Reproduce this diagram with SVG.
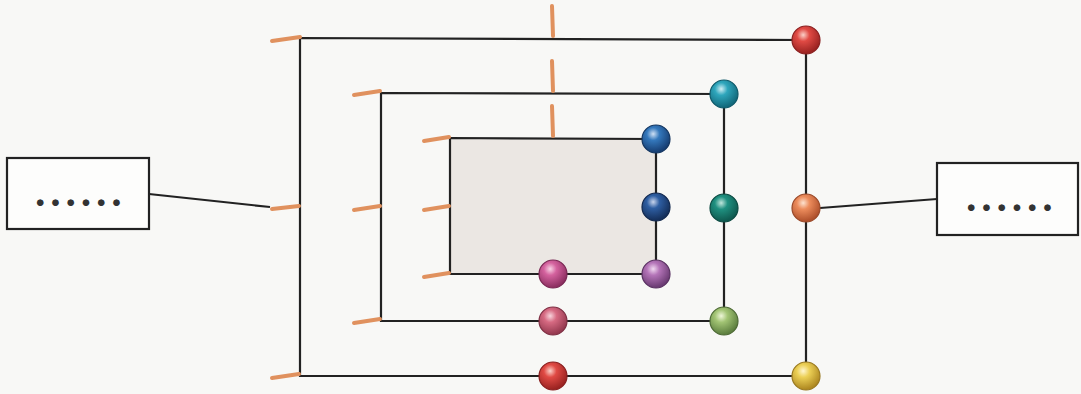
<svg xmlns="http://www.w3.org/2000/svg" width="1081" height="394" viewBox="0 0 1081 394">
<style>
.ln{stroke:#222;stroke-width:2.2;fill:none}
.tk{stroke:#e0915e;stroke-width:4;stroke-linecap:round;fill:none}
.box{fill:#fdfdfc;stroke:#222;stroke-width:2.2}
.dots{font-family:Lato,"Liberation Sans",Arial,sans-serif;font-size:44px;font-weight:bold;fill:#333;letter-spacing:4.8px}
.ball{stroke-width:1.2}
</style>
<defs>
<radialGradient id="gRed" cx="40%" cy="32%" r="65%"><stop offset="0" stop-color="#fbd0c8"/><stop offset="0.35" stop-color="#e04a44"/><stop offset="1" stop-color="#9c2422"/></radialGradient>
<radialGradient id="gOrange" cx="40%" cy="32%" r="65%"><stop offset="0" stop-color="#fde2cf"/><stop offset="0.35" stop-color="#ec8c5c"/><stop offset="1" stop-color="#b0512c"/></radialGradient>
<radialGradient id="gYellow" cx="40%" cy="32%" r="65%"><stop offset="0" stop-color="#fff6cf"/><stop offset="0.35" stop-color="#ecd056"/><stop offset="1" stop-color="#b08a22"/></radialGradient>
<radialGradient id="gCyan" cx="40%" cy="32%" r="65%"><stop offset="0" stop-color="#cfeef4"/><stop offset="0.35" stop-color="#2ea6bc"/><stop offset="1" stop-color="#136a7c"/></radialGradient>
<radialGradient id="gTeal" cx="40%" cy="32%" r="65%"><stop offset="0" stop-color="#bfe6dc"/><stop offset="0.35" stop-color="#1f9080"/><stop offset="1" stop-color="#0f5a50"/></radialGradient>
<radialGradient id="gLime" cx="40%" cy="32%" r="65%"><stop offset="0" stop-color="#eef6d8"/><stop offset="0.35" stop-color="#a2c474"/><stop offset="1" stop-color="#5e8040"/></radialGradient>
<radialGradient id="gPink" cx="40%" cy="32%" r="65%"><stop offset="0" stop-color="#f8d4dc"/><stop offset="0.35" stop-color="#d66a82"/><stop offset="1" stop-color="#963a50"/></radialGradient>
<radialGradient id="gBlue" cx="40%" cy="32%" r="65%"><stop offset="0" stop-color="#cfe0f4"/><stop offset="0.35" stop-color="#3478bc"/><stop offset="1" stop-color="#173f74"/></radialGradient>
<radialGradient id="gNavy" cx="40%" cy="32%" r="65%"><stop offset="0" stop-color="#c8d4ec"/><stop offset="0.35" stop-color="#2e5ea2"/><stop offset="1" stop-color="#15305c"/></radialGradient>
<radialGradient id="gPurple" cx="40%" cy="32%" r="65%"><stop offset="0" stop-color="#f0d8f0"/><stop offset="0.35" stop-color="#b474b8"/><stop offset="1" stop-color="#6c3c74"/></radialGradient>
<radialGradient id="gMagenta" cx="40%" cy="32%" r="65%"><stop offset="0" stop-color="#f8d2e4"/><stop offset="0.35" stop-color="#d4629e"/><stop offset="1" stop-color="#8e3062"/></radialGradient>
</defs>
<rect width="1081" height="394" fill="#f8f8f6"/>
<rect id="inner-area" x="450" y="138" width="206" height="136" fill="#ebe7e3"/>
<g id="connectors">
<polyline class="ln" points="806,40 300,38 300,376 806,376 806,40"/>
<polyline class="ln" points="724,94 381,93 381,321 724,321 724,94"/>
<polyline class="ln" points="656,139 450,138 450,274 656,274 656,139"/>
<line class="ln" x1="149" y1="194" x2="270" y2="207"/>
<line class="ln" x1="820" y1="208" x2="937" y2="199"/>
</g>
<g id="ticks">
<line class="tk" x1="272" y1="41" x2="300" y2="37"/>
<line class="tk" x1="354" y1="95" x2="380" y2="91"/>
<line class="tk" x1="424" y1="141" x2="449" y2="137"/>
<line class="tk" x1="552" y1="6" x2="553" y2="36"/>
<line class="tk" x1="552" y1="61" x2="553" y2="91"/>
<line class="tk" x1="552" y1="106" x2="553" y2="136"/>
<line class="tk" x1="272" y1="209" x2="299" y2="206"/>
<line class="tk" x1="272" y1="378" x2="299" y2="374"/>
<line class="tk" x1="354" y1="210" x2="380" y2="206"/>
<line class="tk" x1="354" y1="323" x2="380" y2="319"/>
<line class="tk" x1="424" y1="210" x2="449" y2="206"/>
<line class="tk" x1="424" y1="277" x2="449" y2="273"/>
</g>
<g id="box-left"><rect class="box" x="7" y="158" width="142" height="71"/><text class="dots" x="35" y="205.5">......</text></g>
<g id="box-right"><rect class="box" x="937" y="163" width="141" height="72"/><text class="dots" x="966" y="210.5">......</text></g>
<g id="ball-outer-tr"><circle class="ball" cx="806" cy="40" r="14" fill="url(#gRed)" stroke="#8a2020"/></g>
<g id="ball-outer-r"><circle class="ball" cx="806" cy="208" r="14" fill="url(#gOrange)" stroke="#9a4a2a"/></g>
<g id="ball-outer-br"><circle class="ball" cx="806" cy="376" r="14" fill="url(#gYellow)" stroke="#9a7a22"/></g>
<g id="ball-outer-b"><circle class="ball" cx="553" cy="376" r="14" fill="url(#gRed)" stroke="#8a2020"/></g>
<g id="ball-mid-tr"><circle class="ball" cx="724" cy="94" r="14" fill="url(#gCyan)" stroke="#105a6a"/></g>
<g id="ball-mid-r"><circle class="ball" cx="724" cy="208" r="14" fill="url(#gTeal)" stroke="#0c4a42"/></g>
<g id="ball-mid-br"><circle class="ball" cx="724" cy="321" r="14" fill="url(#gLime)" stroke="#4e6a36"/></g>
<g id="ball-mid-b"><circle class="ball" cx="553" cy="321" r="14" fill="url(#gPink)" stroke="#7e3044"/></g>
<g id="ball-in-tr"><circle class="ball" cx="656" cy="139" r="14" fill="url(#gBlue)" stroke="#143660"/></g>
<g id="ball-in-r"><circle class="ball" cx="656" cy="207" r="14" fill="url(#gNavy)" stroke="#12284e"/></g>
<g id="ball-in-br"><circle class="ball" cx="656" cy="274" r="14" fill="url(#gPurple)" stroke="#5a3262"/></g>
<g id="ball-in-b"><circle class="ball" cx="553" cy="274" r="14" fill="url(#gMagenta)" stroke="#7a2854"/></g>
</svg>
